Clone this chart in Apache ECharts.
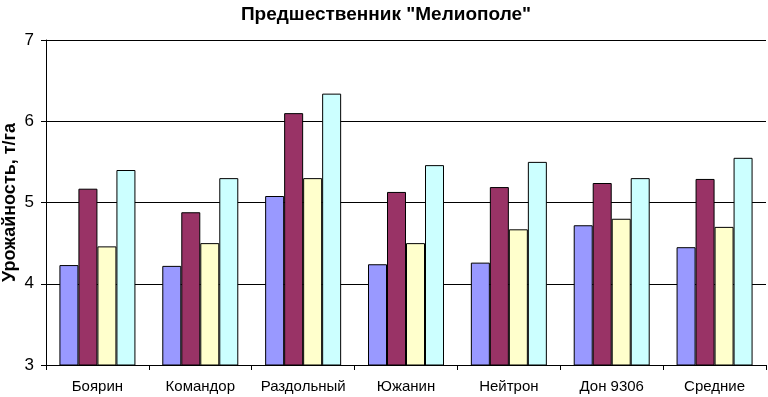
<!DOCTYPE html>
<html>
<head>
<meta charset="utf-8">
<script src="https://cdn.jsdelivr.net/npm/echarts@6/dist/echarts.min.js"></script>
<style>
  html, body { margin: 0; padding: 0; background: #fff; }
  #chart { width: 768px; height: 397px; }
</style>
</head>
<body>
<div id="chart"></div>
<script>
// categories (varieties)
const categories = ['Боярин', 'Командор', 'Раздольный', 'Южанин', 'Нейтрон', 'Дон 9306', 'Средние']
// four series per variety
const series1 = [4.23, 4.22, 5.08, 4.24, 4.26, 4.72, 4.45]
const series2 = [5.17, 4.88, 6.10, 5.13, 5.19, 5.24, 5.29]
const series3 = [4.46, 4.50, 5.30, 4.50, 4.67, 4.80, 4.70]
const series4 = [5.40, 5.30, 6.34, 5.46, 5.50, 5.30, 5.55]
const colors = ['#9999FF', '#993366', '#FFFFCC', '#CCFFFF']

const chart = echarts.init(document.getElementById('chart'))

const bar = (data, i) => ({
  type: 'bar',
  data: data,
  barWidth: 19,
  barGap: 0,
  itemStyle: {
    color: colors[i],
    borderColor: '#000',
    borderWidth: 1
  }
})

chart.setOption({
  animation: false,
  textStyle: { fontFamily: 'Liberation Sans, Arial, sans-serif' },
  title: {
    text: 'Предшественник "Мелиополе"',
    left: 381,
    textAlign: 'center',
    top: 0,
    textStyle: { fontSize: 19, fontWeight: 'bold', color: '#000' }
  },
  grid: { left: 46, right: 2, top: 40, bottom: 32, outerBoundsMode: 'none' },
  xAxis: {
    type: 'category',
    data: categories,
    axisLine: { lineStyle: { color: '#000' } },
    axisTick: { show: true, length: 5, lineStyle: { color: '#000' } },
    axisLabel: { color: '#000', fontSize: 15, margin: 14, interval: 0 }
  },
  yAxis: {
    type: 'value',
    min: 3,
    max: 7,
    interval: 1,
    name: 'Урожайность, т/га',
    nameLocation: 'middle',
    nameGap: 27,
    nameMoveOverlap: false,
    nameTextStyle: { fontSize: 18, fontWeight: 'bold', color: '#000' },
    axisLine: { show: true, lineStyle: { color: '#000' } },
    axisTick: { show: true, length: 5, lineStyle: { color: '#000' } },
    axisLabel: { color: '#000', fontSize: 17, margin: 12 },
    splitLine: { lineStyle: { color: '#000', width: 1 } }
  },
  series: [series1, series2, series3, series4].map(bar)
})
</script>
</body>
</html>
